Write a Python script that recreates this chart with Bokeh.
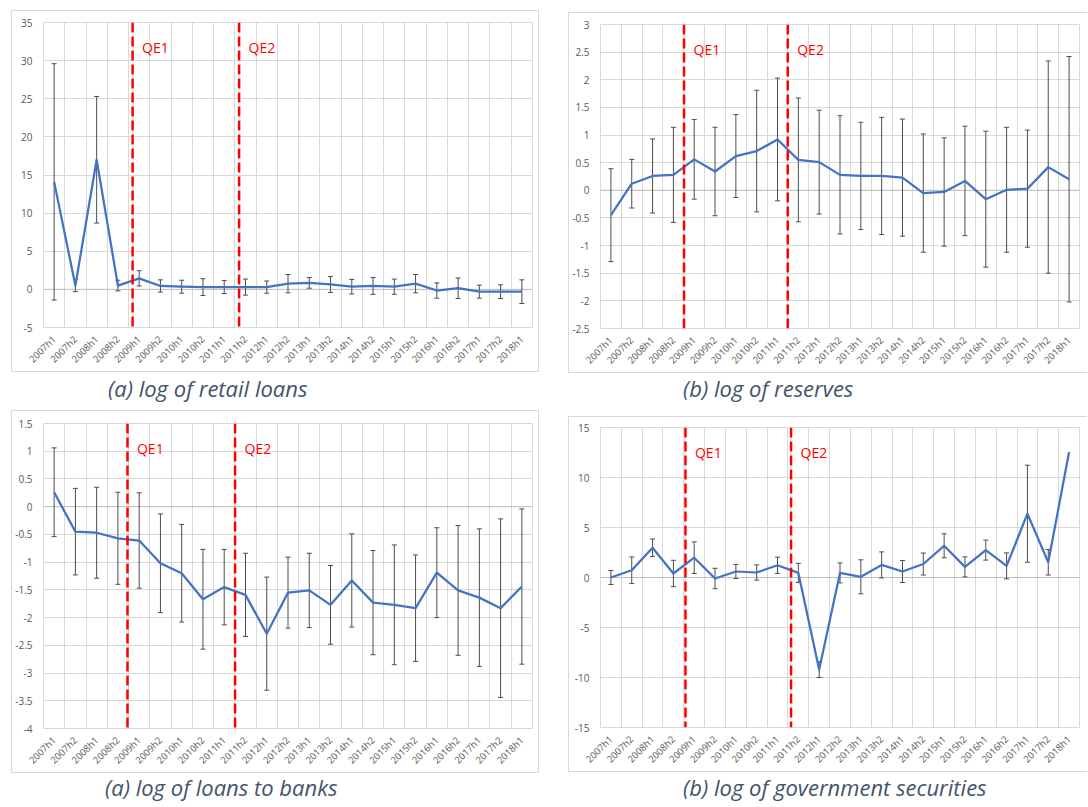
import math
from bokeh.plotting import figure
from bokeh.models import ColumnDataSource, Whisker, TeeHead, Span, Label, FixedTicker, Range1d, Div
from bokeh.layouts import column, row
from bokeh.embed import file_html
from bokeh.resources import INLINE

periods = ["2007h1", "2007h2", "2008h1", "2008h2", "2009h1", "2009h2", "2010h1", "2010h2",
           "2011h1", "2011h2", "2012h1", "2012h2", "2013h1", "2013h2", "2014h1", "2014h2",
           "2015h1", "2015h2", "2016h1", "2016h2", "2017h1", "2017h2", "2018h1"]

retail_loans = [14.1, 0.5, 17.0, 0.5, 1.45, 0.45, 0.35, 0.3, 0.3, 0.3, 0.3, 0.75, 0.85,
                0.65, 0.35, 0.45, 0.35, 0.75, -0.15, 0.15, -0.3, -0.3, -0.3]
retail_loans_err = [15.5, 0.8, 8.3, 0.7, 1.0, 0.8, 0.85, 1.1, 0.85, 1.05, 0.8, 1.2, 0.7,
                    1.05, 0.95, 1.1, 1.0, 1.2, 1.0, 1.35, 0.85, 0.9, 1.55]

reserves = [-0.45, 0.12, 0.26, 0.28, 0.56, 0.34, 0.62, 0.71, 0.92, 0.55, 0.51, 0.28, 0.26,
            0.26, 0.23, -0.05, -0.03, 0.17, -0.16, 0.01, 0.03, 0.42, 0.2]
reserves_err = [0.84, 0.44, 0.67, 0.86, 0.72, 0.8, 0.75, 1.1, 1.11, 1.12, 0.94, 1.07, 0.97,
                1.06, 1.06, 1.07, 0.98, 0.99, 1.23, 1.13, 1.06, 1.92, 2.22]

loans_to_banks = [0.26, -0.45, -0.47, -0.57, -0.61, -1.02, -1.2, -1.67, -1.45, -1.59, -2.29,
                  -1.55, -1.51, -1.77, -1.33, -1.73, -1.77, -1.83, -1.19, -1.51, -1.64, -1.83, -1.44]
loans_to_banks_err = [0.8, 0.78, 0.82, 0.83, 0.86, 0.89, 0.88, 0.9, 0.68, 0.75, 1.02, 0.64,
                      0.67, 0.71, 0.84, 0.94, 1.08, 0.96, 0.81, 1.17, 1.24, 1.61, 1.4]

gov_securities = [0.0, 0.73, 2.97, 0.4, 1.98, -0.1, 0.6, 0.5, 1.22, 0.46, -9.2, 0.46, 0.07,
                  1.26, 0.6, 1.35, 3.17, 1.06, 2.74, 1.16, 6.38, 1.52, 12.55]
gov_securities_err = [0.7, 1.32, 0.88, 1.32, 1.58, 1.02, 0.71, 0.76, 0.81, 0.95, 0.8, 1.0, 1.7,
                      1.3, 1.1, 1.1, 1.2, 1.0, 1.0, 1.3, 4.85, 1.27, 0.0]

retail_y_ticks = [-5, 0, 5, 10, 15, 20, 25, 30, 35]
retail_y_labels = ["-5", "0", "5", "10", "15", "20", "25", "30", "35"]
reserves_y_ticks = [-2.5, -2, -1.5, -1, -0.5, 0, 0.5, 1, 1.5, 2, 2.5, 3]
reserves_y_labels = ["-2.5", "-2", "-1.5", "-1", "-0.5", "0", "0.5", "1", "1.5", "2", "2.5", "3"]
banks_y_ticks = [-4, -3.5, -3, -2.5, -2, -1.5, -1, -0.5, 0, 0.5, 1, 1.5]
banks_y_labels = ["-4", "-3.5", "-3", "-2.5", "-2", "-1.5", "-1", "-0.5", "0", "0.5", "1", "1.5"]
gov_y_ticks = [-15, -10, -5, 0, 5, 10, 15]
gov_y_labels = ["-15", "-10", "-5", "0", "5", "10", "15"]

qe_labels = ["QE1", "QE2"]

captions = ["(a) log of retail loans", "(b) log of reserves",
            "(a) log of loans to banks", "(b) log of government securities"]

BLUE = "#4472C4"
GRID = "#d9d9d9"
TICK_COLOR = "#595959"
FONT = "Open Sans"


def make_panel(vals, errs, yt, yl, qe_pos, width, height, borders, margin, box_style):
    n = len(periods)
    xs = list(range(n))
    p = figure(width=width, height=height, x_range=Range1d(-0.5, n - 0.5),
               y_range=Range1d(yt[0], yt[-1]), output_backend="svg", toolbar_location=None,
               min_border_left=borders[0], min_border_right=borders[1],
               min_border_top=borders[2], min_border_bottom=borders[3],
               margin=margin, styles=box_style)
    p.background_fill_color = "white"
    p.border_fill_color = "white"
    p.outline_line_color = GRID

    p.xaxis.ticker = FixedTicker(ticks=xs)
    p.xaxis.major_label_overrides = {i: lab for i, lab in zip(xs, periods)}
    p.xaxis.major_label_orientation = math.pi / 4
    p.yaxis.ticker = FixedTicker(ticks=yt)
    p.yaxis.major_label_overrides = {v: lab for v, lab in zip(yt, yl)}
    for ax in (p.xaxis, p.yaxis):
        ax.axis_line_color = None
        ax.major_tick_line_color = None
        ax.minor_tick_line_color = None
        ax.major_label_text_color = TICK_COLOR
        ax.major_label_text_font = FONT
    p.xaxis.major_label_text_font_size = "9.5px"
    p.yaxis.major_label_text_font_size = "10px"
    p.xaxis.major_label_standoff = 4
    p.yaxis.major_label_standoff = 5

    p.xgrid.ticker = FixedTicker(ticks=[i - 0.5 for i in range(n + 1)])
    p.ygrid.ticker = FixedTicker(ticks=yt)
    p.xgrid.grid_line_color = GRID
    p.ygrid.grid_line_color = GRID

    p.add_layout(Span(location=0, dimension="width", line_color="#bfbfbf",
                      line_width=1, level="underlay"))

    p.line(xs, vals, line_color=BLUE, line_width=2.25, line_join="round")

    ex = [x for x, e in zip(xs, errs) if e > 0]
    src = ColumnDataSource(dict(
        x=ex,
        upper=[v + e for v, e in zip(vals, errs) if e > 0],
        lower=[v - e for v, e in zip(vals, errs) if e > 0],
    ))
    p.add_layout(Whisker(base="x", upper="upper", lower="lower", source=src,
                         line_color="#4d4d4d", line_width=1,
                         upper_head=TeeHead(size=5, line_color="#4d4d4d", line_width=1),
                         lower_head=TeeHead(size=5, line_color="#4d4d4d", line_width=1)))

    for pos, lab in zip(qe_pos, qe_labels):
        p.add_layout(Span(location=pos, dimension="height", line_color="#FF0000",
                          line_width=2.5, line_dash="10 4"))
        p.add_layout(Label(x=pos, y=yt[-1], x_offset=9.5, y_offset=-25, text=lab,
                           text_color="#FF0000", text_font=FONT, text_font_size="14px",
                           text_baseline="alphabetic", text_align="left"))
    return p


def make_caption(text, width, height, pad_left, pad_top, margin):
    return Div(text=text, width=width, height=height, margin=margin,
               styles={"font-family": "'Open Sans'", "font-style": "italic",
                       "font-size": "22px", "line-height": "26px", "color": "#44546A",
                       "padding-left": f"{pad_left}px", "padding-top": f"{pad_top}px",
                       "white-space": "nowrap", "box-sizing": "border-box",
                       "overflow": "visible"})


full_box = {"border": "1px solid #d9d9d9"}
open_box = {"border-top": "1px solid #d9d9d9", "border-left": "1px solid #d9d9d9",
            "border-bottom": "1px solid #d9d9d9"}

# left column (page x 11..541)
fig1 = make_panel(retail_loans, retail_loans_err, retail_y_ticks, retail_y_labels, [3.69, 8.7],
                  528, 362, (25, 8, 11, 44), (10, 0, 0, 11), full_box)
cap1 = make_caption(captions[0], 530, 38, 97, 3, (0, 0, 0, 11))
fig3 = make_panel(loans_to_banks, loans_to_banks_err, banks_y_ticks, banks_y_labels, [3.45, 8.51],
                  528, 363, (31, 7, 12, 44), (0, 0, 0, 11), full_box)
cap3 = make_caption(captions[2], 530, 30, 94, 1, (0, 0, 0, 11))

# right column (page x 568..1088)
fig2 = make_panel(reserves, reserves_err, reserves_y_ticks, reserves_y_labels, [3.51, 8.49],
                  519, 361, (30, 4, 11, 45), (12, 0, 0, 27), open_box)
cap2 = make_caption(captions[1], 520, 43, 115, 2, (0, 0, 0, 27))
fig4 = make_panel(gov_securities, gov_securities_err, gov_y_ticks, gov_y_labels, [3.58, 8.65],
                  519, 356, (28, 9, 10, 42), (0, 0, 0, 27), open_box)
cap4 = make_caption(captions[3], 520, 31, 115, 2, (0, 0, 0, 27))

layout = row(column(fig1, cap1, fig3, cap3), column(fig2, cap2, fig4, cap4))

open("out.html", "w").write(file_html(layout, INLINE))
